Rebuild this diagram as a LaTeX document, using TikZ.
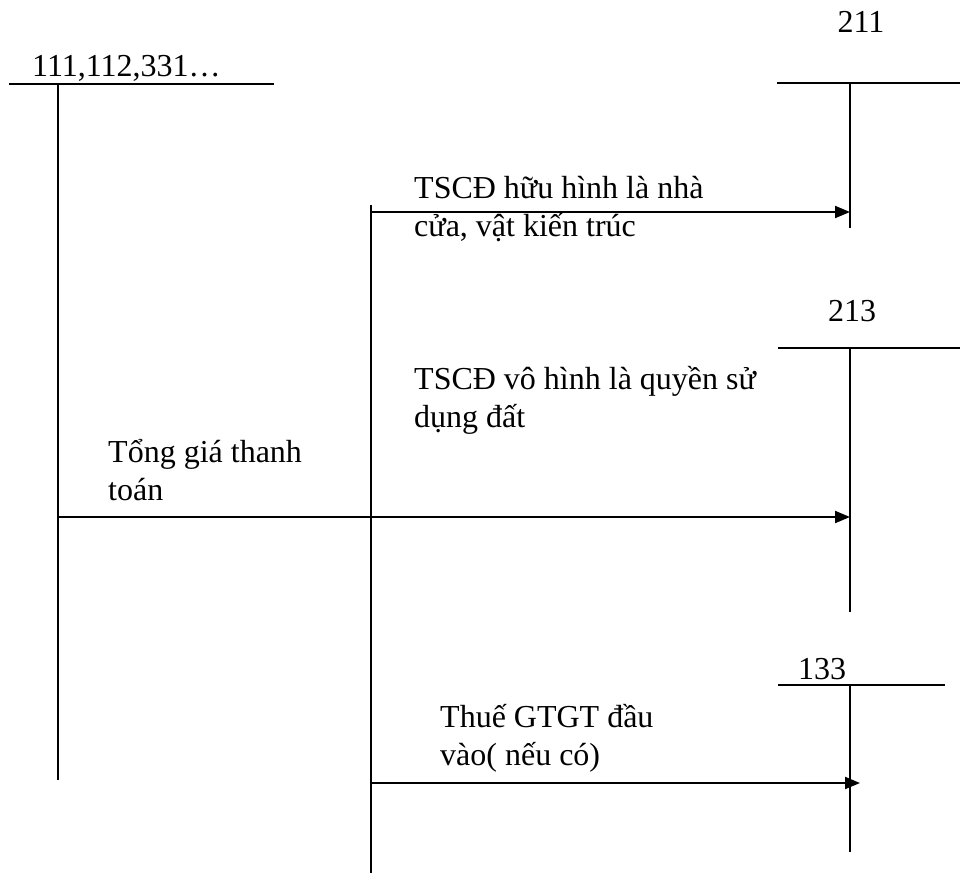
\documentclass[tikz,border=0pt]{standalone}
\usepackage{fontspec}
\setmainfont{Liberation Serif}
\usetikzlibrary{arrows.meta}
\begin{document}
\begin{tikzpicture}[x=1pt,y=-1pt,
  acct/.style={line width=2pt},
  flow/.style={line width=2pt,-{Triangle[length=15pt,width=12pt]}},
  lbl/.style={inner sep=0pt,anchor=base west,align=left,font=\fontsize{32}{38}\selectfont},
  num/.style={inner sep=0pt,anchor=base,font=\fontsize{32}{38}\selectfont}]
\useasboundingbox (0,0) rectangle (960,875);
% T-accounts
\coordinate (a111L) at (9,84);   \coordinate (a111R) at (274,84);
\coordinate (a111T) at (58,84);  \coordinate (a111B) at (58,780);
\coordinate (a211L) at (777,83); \coordinate (a211R) at (960,83);
\coordinate (a211T) at (850,83); \coordinate (a211B) at (850,228);
\coordinate (a213L) at (778,348); \coordinate (a213R) at (960,348);
\coordinate (a213T) at (850,348); \coordinate (a213B) at (850,612);
\coordinate (a133L) at (778,685); \coordinate (a133R) at (945,685);
\coordinate (a133T) at (850,685); \coordinate (a133B) at (850,852);
\coordinate (midT) at (371,205); \coordinate (midB) at (371,873);
\draw[acct] (a111L) -- (a111R) (a111T) -- (a111B);
\draw[acct] (a211L) -- (a211R) (a211T) -- (a211B);
\draw[acct] (a213L) -- (a213R) (a213T) -- (a213B);
\draw[acct] (a133L) -- (a133R) (a133T) -- (a133B);
\draw[acct] (midT) -- (midB);
\node[lbl] (t111) at (32,77) {111,112,331…};
\node[num] (t211) at (861,33) {211};
\node[num] (t213) at (852,321) {213};
\node[num] (t133) at (822,679) {133};
% flows
\coordinate (f1s) at (371,212); \coordinate (f1e) at (850,212);
\coordinate (f3s) at (58,517);  \coordinate (f3e) at (850,517);
\coordinate (f4s) at (371,783); \coordinate (f4e) at (860,783);
\draw[flow] (f1s) -- (f1e);
\draw[flow] (f3s) -- (f3e);
\draw[flow] (f4s) -- (f4e);
\node[lbl] (l1) at (414,236) {TSCĐ hữu hình là nhà\\cửa, vật kiến trúc};
\node[lbl] (l2) at (414,427) {TSCĐ vô hình là quyền sử\\dụng đất};
\node[lbl] (l3) at (108,500) {Tổng giá thanh\\toán};
\node[lbl] (l4) at (440,765) {Thuế GTGT đầu\\vào( nếu có)};
\end{tikzpicture}
\end{document}
